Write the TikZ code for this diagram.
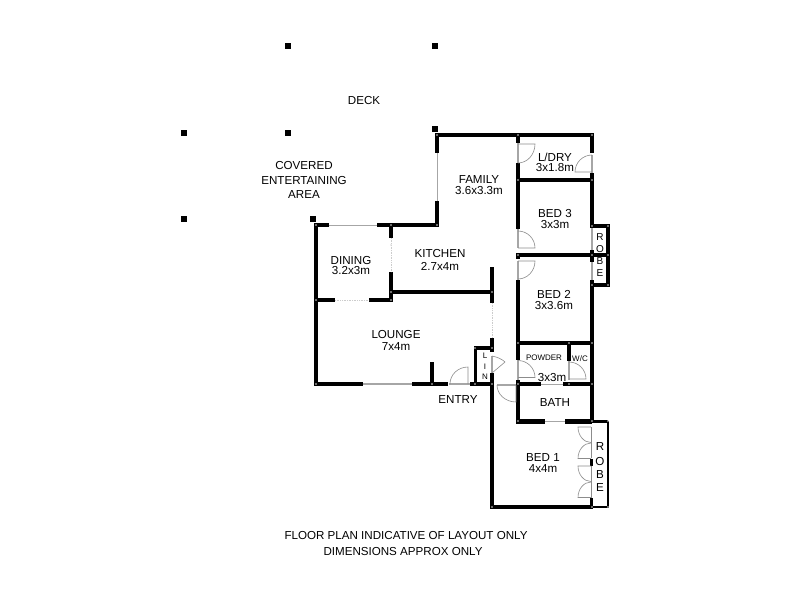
\documentclass[tikz,border=0pt]{standalone}
\usepackage{fontspec}
\setmainfont{Liberation Sans}
\tikzset{
	wall/.style={
		draw=black,
		line width=4.4pt,
		line cap=butt,
		line join=miter,
	},
	slimwall/.style={
		draw=black,
		line width=3.3pt,
	},
	glass/.style={
		draw=black!35,
		line width=0.8pt,
	},
	opening/.style={
		draw=black!20,
		line width=0.7pt,
		densely dotted,
	},
	sill/.style={
		draw=black!35,
		line width=1.8pt,
	},
	leaf/.style={
		draw=black!45,
		line width=0.6pt,
	},
	post/.style={
		rectangle,
		fill=black,
		inner sep=0pt,
		minimum size=6pt,
	},
	room/.style={
		align=center,
		inner sep=0pt,
		font=\fontsize{11.6}{10.2}\selectfont,
	},
	tiny/.style={
		inner sep=0pt,
		font=\fontsize{8}{9}\selectfont,
	},
	letter/.style={
		inner sep=0pt,
		font=\fontsize{10}{10}\selectfont,
	},
}
\begin{document}
\begin{tikzpicture}[x=1pt, y=-1pt]
		\useasboundingbox [fill=white] (0,0) rectangle (800,600);

		% Deck posts
		\node [post] (p1) at (288,46) {};
		\node [post] (p2) at (435,46) {};
		\node [post] (p3) at (184,133) {};
		\node [post] (p4) at (288,133) {};
		\node [post] (p5) at (435,129) {};
		\node [post] (p6) at (184,219) {};
		\node [post] (p7) at (313,219) {};

		% Outer walls
		\draw [wall] (435,135) -- (593.5,135);
		\draw [wall] (437,133) -- (437,153);
		\draw [wall] (437,201) -- (437,225) -- (377,225);
		\draw [wall] (329,225) -- (316,225) -- (316,384) -- (363,384);
		\draw [wall] (412,384) -- (448,384);
		\draw [wall] (470,384) -- (494,384);
		\draw [wall] (592,133) -- (592,153);
		\draw [wall] (592,173) -- (592,228);
		\draw [wall] (592,250) -- (592,262);
		\draw [wall] (592,280) -- (592,423);
		\draw [wall] (492,373) -- (492,509);
		\draw [wall] (490,507) -- (593,507);

		% Inner walls
		\draw [wall] (518,133) -- (518,143);
		\draw [wall] (518,163) -- (518,229);
		\draw [wall] (518,280) -- (518,360);
		\draw [wall] (518,380) -- (518,423);
		\draw [slimwall] (518,180) -- (592,180);
		\draw [slimwall] (516,255) -- (608,255);
		\draw [slimwall] (518,343) -- (592,343);
		\draw [slimwall] (569,343) -- (569,361);
		\draw [wall] (516,384) -- (541,384);
		\draw [wall] (563,384) -- (592,384);
		\draw [wall] (516,421.5) -- (545,421.5);
		\draw [wall] (565,421.5) -- (592,421.5);
		\draw [wall] (391,225) -- (391,238);
		\draw [wall] (391,272) -- (391,302);
		\draw [wall] (316,300) -- (335,300);
		\draw [wall] (369,300) -- (391,300);
		\draw [slimwall] (391,292) -- (492,292);
		\draw [wall] (492,267) -- (492,303);
		\draw [wall] (492,338) -- (492,352);
		\draw [wall] (432,362) -- (432,384);
		\draw [slimwall] (492,348) -- (475.5,348) -- (475.5,384);
		\fill (516,252.5) rectangle (520,258.5);

		% Robes
		\draw [slimwall] (592,226) -- (608,226) -- (608,285) -- (592,285);
		\draw [slimwall] (592,421.5) -- (608,421.5);
		\draw [line width=2.8pt] (608,420.5) -- (608,508.4);
		\draw [line width=2.8pt] (592,507) -- (609.4,507);
		\fill (589.5,459) rectangle (593,466);
		\fill (589.5,498) rectangle (593,507);

		% Windows and open sections
		\draw [glass] (437,153) -- (437,201);
		\draw [glass] (329,225) -- (377,225);
		\draw [sill] (363,384) -- (412,384);
		\draw [opening] (391,238) -- (391,272);
		\draw [opening] (335,300) -- (369,300);
		\draw [opening] (492,303) -- (492,338);
		\draw [glass] (541,384) -- (563,384);
		\draw [glass] (545,421.5) -- (565,421.5);

		% Doors
		\draw [sill] (518,143) -- (518,163);
		\draw [leaf] (518,144) -- (535,144) arc (0:90:17 and 19);
		\draw [sill] (592,155) -- (592,173);
		\draw [leaf] (592,172) -- (575,172) arc (180:270:17);
		\draw [sill] (518,229) -- (518,248);
		\draw [leaf] (518,248) -- (535,248) arc (0:-90:17);
		\draw [sill] (518,261) -- (518,280);
		\draw [leaf] (518,261) -- (535,261) arc (0:90:17 and 18);
		\draw [sill] (492,356) -- (492,373);
		\draw [leaf] (492,373) -- (505,362) .. controls (502,359) and (497,357) .. (492,356);
		\draw [sill] (518,360) -- (518,380);
		\draw [leaf] (518,377.5) -- (535,377.5) arc (0:-90:17);
		\draw [sill] (569,361) -- (569,380);
		\draw [leaf] (569,379) -- (586,379) arc (0:-90:17);
		\draw [sill] (449,384) -- (470,384);
		\draw [leaf] (468,384) -- (468,367) arc (-90:-180:18 and 17);
		\draw [sill] (497,385) -- (516,385);
		\draw [leaf] (516,385) -- (516,402) arc (90:180:19 and 17);

		% Robe doors
		\draw [leaf] (591,427) -- (591,458);
		\draw [leaf] (591,466) -- (591,498);
		\foreach \ytop in {427,466} {
			\draw [leaf] (591,\ytop) -- (578,\ytop) arc (180:90:13 and 15.5);
			\draw [leaf] (591,\ytop+31.5) -- (578,\ytop+31.5) arc (180:270:13 and 15.5);
		}
		\draw [glass, line width=1.2pt] (592,228) -- (592,250);
		\draw [glass, line width=1.2pt] (592,262) -- (592,280);

		% Wall joints
		\foreach \jx/\jy in {437/135, 518/135, 592/135, 518/180, 592/180, 437/225, 391/225, 316/225,
			391/245, 391/292, 492/292, 316/300, 391/300, 518/255, 592/255, 608/255, 592/226, 608/226,
			592/285, 608/285, 518/343, 569/343, 592/343, 475/348, 492/348, 316/384, 432/384, 475/384,
			492/384, 518/384, 569/384, 592/384, 518/421, 592/421, 608/421, 492/507, 592/507, 608/507} {
			\fill [black!15] (\jx,\jy) circle (0.8);
		}

		% Labels
		\node [room] (deck) at (364,101) {DECK};
		\node [room, font=\fontsize{11.6}{14.5}\selectfont] (covered) at (304,180) {COVERED\\ENTERTAINING\\AREA};
		\node [room] (family) at (479,185) {FAMILY\\3.6x3.3m};
		\node [room] (ldry) at (555,162.5) {L/DRY\\3x1.8m};
		\node [room] (bed3) at (555,219) {BED 3\\3x3m};
		\node [room, font=\fontsize{11.6}{13}\selectfont] (kitchen) at (440,260) {KITCHEN\\2.7x4m};
		\node [room] (dining) at (351,265.5) {DINING\\3.2x3m};
		\node [room] (bed2) at (554,300) {BED 2\\3x3.6m};
		\node [room, font=\fontsize{11.6}{11.5}\selectfont] (lounge) at (396,340.5) {LOUNGE\\7x4m};
		\node [tiny] (powder) at (544,358) {POWDER};
		\node [tiny] (wc) at (580,359) {W/C};
		\node [room] (powderdim) at (552,377) {3x3m};
		\node [room] (entry) at (458,400) {ENTRY};
		\node [room] (bath) at (555,403) {BATH};
		\node [room] (bed1) at (543,463) {BED 1\\4x4m};

		\node [tiny] (l) at (485,356) {L};
		\node [tiny] (i) at (485,367) {I};
		\node [tiny] (n) at (485,377) {N};
		\node [letter] (r1) at (600,237) {R};
		\node [letter] (o1) at (600,249) {O};
		\node [letter] (b1) at (600,261) {B};
		\node [letter] (e1) at (600,273) {E};
		\node [room] (r2) at (600,447) {R};
		\node [room] (o2) at (600,461) {O};
		\node [room] (b2) at (600,475) {B};
		\node [room] (e2) at (600,488) {E};

		\node [room] (note1) at (406,535) {FLOOR PLAN INDICATIVE OF LAYOUT ONLY};
		\node [room] (note2) at (403,551) {DIMENSIONS APPROX ONLY};

	\end{tikzpicture}
\end{document}
